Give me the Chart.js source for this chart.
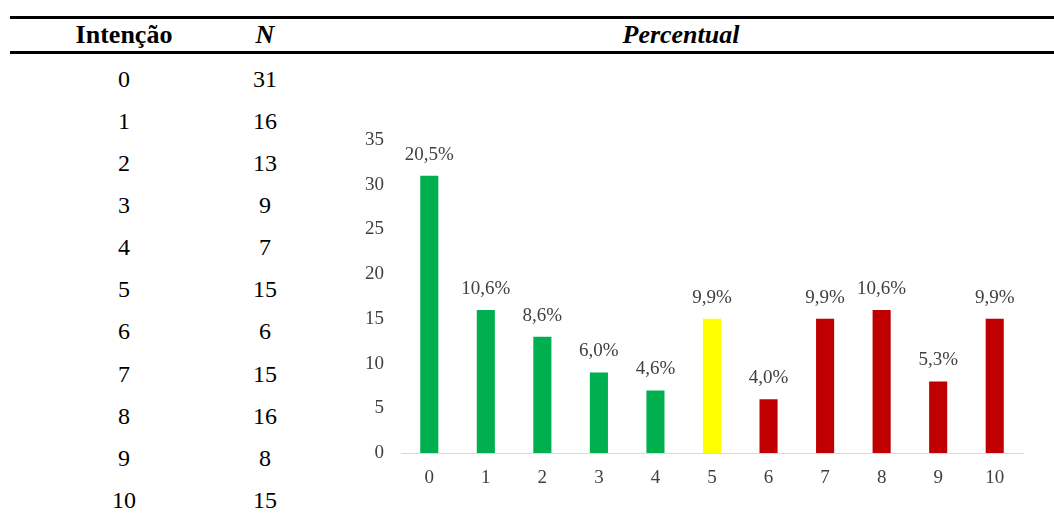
<!DOCTYPE html>
<html lang="pt">
<head>
<meta charset="utf-8">
<title>Intenção - Percentual</title>
<script src="https://cdn.jsdelivr.net/npm/chart.js@4"></script>
<style>
  body { margin: 0; background: #fff; width: 1054px; height: 517px; overflow: hidden; position: relative;
         font-family: "Liberation Serif", "Times New Roman", serif; color: #000; }
  .rule { position: absolute; left: 10px; right: 0; height: 3px; background: #000; }
  .cell { position: absolute; width: 120px; text-align: center; font-size: 24px; line-height: 26px; }
  .head { font-weight: bold; font-size: 26px; }
  #grafico { position: absolute; left: 320px; top: 100px; }
</style>
</head>
<body>
<div class="rule" style="top:16px"></div>
<div class="rule" style="top:51px"></div>
<div class="cell head" style="left:64px;top:22px">Intenção</div>
<div class="cell head" style="left:205px;top:22px;font-style:italic">N</div>
<div class="cell head" style="left:621px;top:22px;font-style:italic">Percentual</div>
<div id="tabela"></div>
<canvas id="grafico" width="734" height="417"></canvas>

<script>
var intencao = ["0", "1", "2", "3", "4", "5", "6", "7", "8", "9", "10"];
var contagem = [31, 16, 13, 9, 7, 15, 6, 15, 16, 8, 15];
var percentuais = ["20,5%", "10,6%", "8,6%", "6,0%", "4,6%", "9,9%", "4,0%", "9,9%", "10,6%", "5,3%", "9,9%"];
var cores = ["#00B050", "#00B050", "#00B050", "#00B050", "#00B050", "#FFFF00",
             "#C00000", "#C00000", "#C00000", "#C00000", "#C00000"];
var yTicks = [0, 5, 10, 15, 20, 25, 30, 35];

// table rows on the left
var tabela = document.getElementById("tabela");
var linhas = "";
for (var i = 0; i < intencao.length; i++) {
  var posY = 65.5 + i * 42.15;
  linhas +=
    '<div class="cell" style="left:64px;top:' + posY + 'px">' + intencao[i] + '</div>' +
    '<div class="cell" style="left:205px;top:' + posY + 'px">' + contagem[i] + '</div>';
}
tabela.innerHTML = linhas;

// percent labels above each bar
var rotulos = {
  id: "rotulos",
  afterDatasetsDraw: function (chart) {
    var ctx = chart.ctx;
    var meta = chart.getDatasetMeta(0);
    ctx.save();
    ctx.font = '19px "Liberation Serif", serif';
    ctx.fillStyle = "#404040";
    ctx.textAlign = "center";
    ctx.textBaseline = "middle";
    meta.data.forEach(function (bar, i) {
      ctx.fillText(percentuais[i], bar.x, bar.y - 21);
    });
    ctx.restore();
  }
};

new Chart(document.getElementById("grafico"), {
  type: "bar",
  data: {
    labels: intencao,
    datasets: [{
      data: contagem,
      backgroundColor: cores,
      barPercentage: 0.32,
      categoryPercentage: 1
    }]
  },
  options: {
    responsive: false,
    animation: false,
    layout: { padding: { top: 40, right: 31, left: 0, bottom: 0 } },
    plugins: {
      legend: { display: false },
      tooltip: { enabled: false }
    },
    scales: {
      x: {
        grid: { display: false, drawTicks: false },
        border: { display: true, color: "#D9D9D9", width: 1 },
        ticks: {
          color: "#404040",
          padding: 14,
          font: { family: '"Liberation Serif", serif', size: 19 }
        },
        afterFit: function (scale) { scale.height = 64; }
      },
      y: {
        min: 0,
        max: 35,
        afterBuildTicks: function (scale) {
          scale.ticks = yTicks.map(function (v) { return { value: v }; });
        },
        grid: { display: false, drawTicks: false },
        border: { display: false },
        ticks: {
          color: "#404040",
          padding: 17,
          font: { family: '"Liberation Serif", serif', size: 19 }
        },
        afterFit: function (scale) { scale.width = 81; }
      }
    }
  },
  plugins: [rotulos]
});
</script>
</body>
</html>
